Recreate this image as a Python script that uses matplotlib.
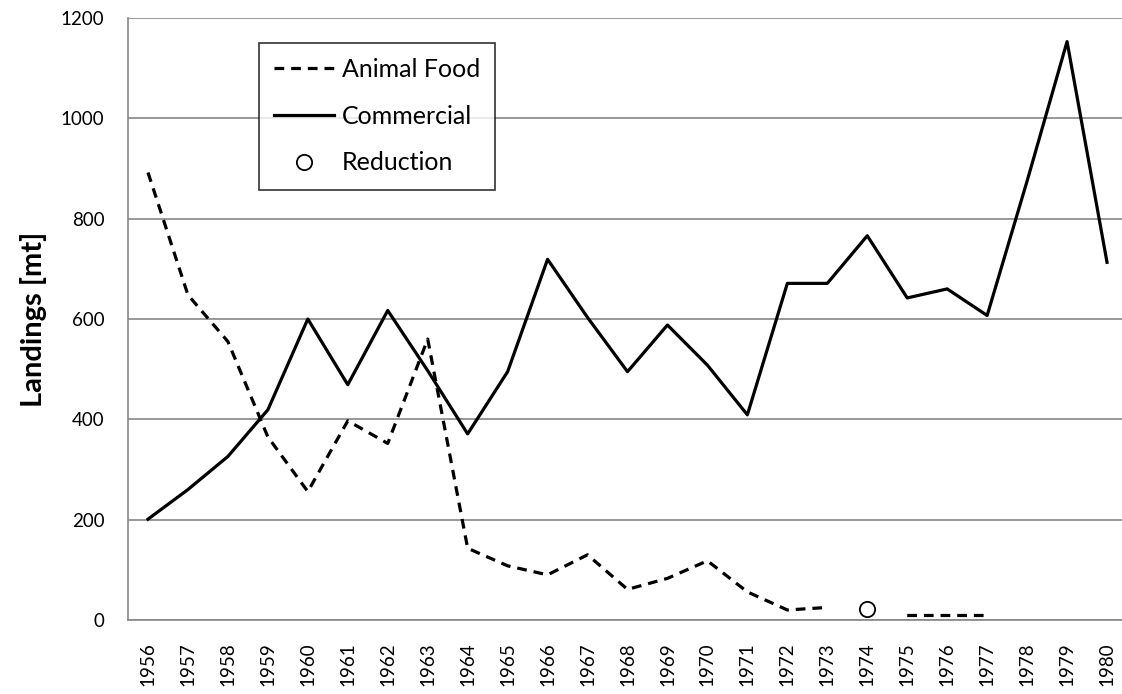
# Landings by use, 1956-1980
import numpy as np
import matplotlib
matplotlib.use("Agg")
import matplotlib.pyplot as plt

plt.rcParams['font.family'] = ['Lato', 'DejaVu Sans']
plt.rcParams['lines.scale_dashes'] = False

# --- Data ---
years = [str(y) for y in range(1956, 1981)]

commercial = [201, 260, 326, 419, 600, 469, 617, 497, 371, 495,
              719, 603, 495, 588, 508, 409, 671, 671, 766, 642,
              660, 607, 875, 1153, 713]

animal_food = [892, 648, 555, 365, 256, 397, 352, 560, 143, 108,
               90, 130, 61, 83, 118, 56, 20, 25, np.nan, 9,
               9, 9, np.nan, np.nan, np.nan]

reduction = [np.nan] * 18 + [22] + [np.nan] * 6

# --- Figure ---
fig = plt.figure(figsize=(11.22, 6.94), dpi=100)
ax = fig.add_axes([128 / 1122, 1 - 620 / 694, 999 / 1122, 602 / 694])

x = np.arange(len(years))
grid_col = "#868686"

ax.plot(x, animal_food, color="black", lw=2.3, linestyle=(0, (7, 5)),
        label="Animal Food", zorder=3)
ax.plot(x, commercial, color="black", lw=2.3, label="Commercial", zorder=3)
ax.plot(x, reduction, linestyle="none", marker="o", markersize=11,
        markerfacecolor="white", markeredgecolor="black", markeredgewidth=1.3,
        label="Reduction", zorder=4)

ax.set_xlim(-0.5, len(years) - 0.5)
ax.set_ylim(0, 1200)
ax.set_yticks(range(0, 1201, 200))
ax.set_xticks(x)
ax.set_xticklabels(years, rotation=90, fontsize=13.5)
ax.tick_params(axis="y", labelsize=13.5, length=0, pad=17)
ax.tick_params(axis="x", length=0, pad=16)

ax.yaxis.grid(True, color=grid_col, lw=1.2)
ax.set_axisbelow(True)
for side in ["top", "right"]:
    ax.spines[side].set_visible(False)
for side in ["left", "bottom"]:
    ax.spines[side].set_color(grid_col)
    ax.spines[side].set_linewidth(1.2)

ax.set_ylabel("Landings [mt]", fontsize=21, fontweight="bold", labelpad=10)

leg = ax.legend(loc="upper left", bbox_to_anchor=(131 / 999, 1 - 25 / 602),
                borderaxespad=0, fontsize=18, frameon=True, fancybox=False,
                handlelength=2.4, labelspacing=0.95, borderpad=0.6,
                handletextpad=0.3)
leg.get_frame().set_edgecolor("black")
leg.get_frame().set_linewidth(1.2)

fig.savefig("out.png", dpi=100)
